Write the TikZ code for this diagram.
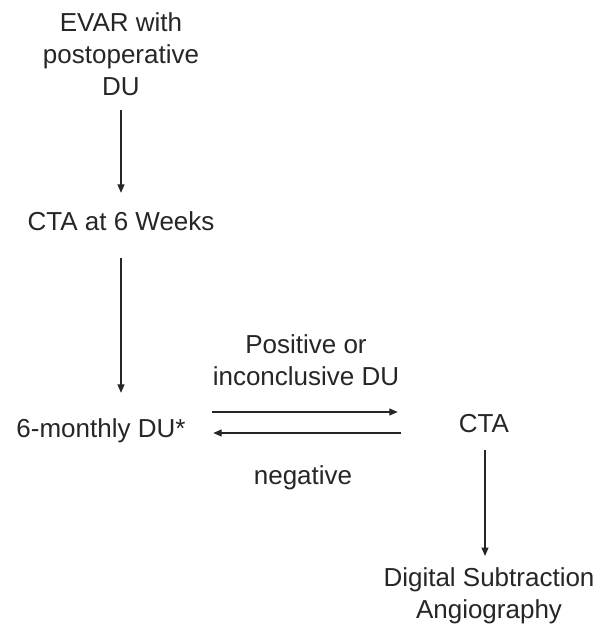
\documentclass[tikz,border=0pt]{standalone}
\usepackage{fontspec}
\setmainfont{Liberation Sans}
\usetikzlibrary{arrows.meta}
\definecolor{ink}{HTML}{262626}
\tikzset{
  lbl/.style={inner sep=0pt, text=ink, font=\fontsize{26pt}{32pt}\selectfont},
  one/.style={lbl, text height=19pt, text depth=5pt},
  multi/.style={lbl, align=center, anchor=north},
  arr/.style={draw=ink, line width=1.3pt, -{Triangle[length=8.5pt,width=7pt]}}
}
\begin{document}
\begin{tikzpicture}[x=1pt,y=1pt]
\useasboundingbox[fill=white] (0,0) rectangle (597,-630);
\node[multi] (evar) at (121,-12) {EVAR with\\postoperative\\DU};
\node[one] (cta6) at (121,-223) {CTA at 6 Weeks};
\node[one] (dumon) at (101,-430) {6-monthly DU*};
\node[one] (cta) at (484,-425) {CTA};
\node[multi] (pos) at (306,-334) {Positive or\\inconclusive DU};
\node[one] (neg) at (303,-477) {negative};
\node[multi] (dsa) at (489,-567) {Digital Subtraction\\Angiography};
\draw[arr] ([yshift=-15pt]evar.south) -- ([yshift=18pt]cta6.north);
\draw[arr] ([yshift=-23pt]cta6.south) -- ([yshift=25pt]cta6.south |- dumon.north);
\draw[arr] ([xshift=26.5pt,yshift=18pt]dumon.east) -- ([xshift=-61pt,yshift=13pt]cta.west);
\draw[arr] ([xshift=-58pt,yshift=-8pt]cta.west) -- ([xshift=27.5pt,yshift=-3pt]dumon.east);
\draw[arr] ([xshift=1pt,yshift=-13pt]cta.south) -- ([xshift=1pt,yshift=11pt]cta.south |- dsa.north);
\end{tikzpicture}
\end{document}
